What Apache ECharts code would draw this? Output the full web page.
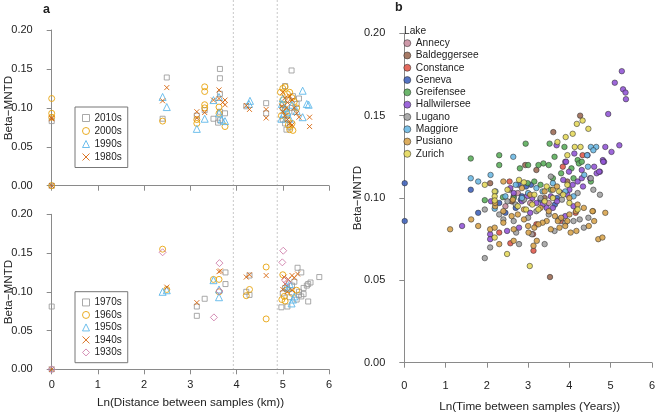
<!DOCTYPE html>
<html><head><meta charset="utf-8">
<script src="https://cdn.jsdelivr.net/npm/echarts@6/dist/echarts.min.js"></script>
<style>html,body{margin:0;padding:0;background:#fff}#c{width:658px;height:413px}</style>
</head><body><div id="c"></div>
<script>
// ---------- Panel a (top): decades 2010s-1980s, [ln distance, Beta-MNTD]
var d2010s = [[0,0.083],[0,0.0],[2.40,0.086],[2.49,0.139],[3.14,0.090],[3.31,0.097],[3.50,0.086],[3.64,0.150],[3.64,0.138],[3.64,0.118],[3.64,0.095],[3.64,0.084],[3.60,0.081],[3.75,0.093],[4.21,0.102],[4.64,0.106],[4.64,0.093],[5.19,0.148],[5.05,0.128],[5.0,0.085],[5.12,0.110],[5.2,0.100],[5.25,0.095],[5.1,0.090],[5.15,0.075],[5.08,0.072],[5.3,0.105],[5.35,0.112],[5.0,0.100],[5.22,0.115],[5.05,0.080]];
var d2000s = [[0,0.112],[0,0.093],[0,0.088],[0,0.0],[2.40,0.083],[3.14,0.080],[3.14,0.085],[3.31,0.127],[3.31,0.121],[3.31,0.104],[3.31,0.100],[3.62,0.101],[3.62,0.093],[3.75,0.076],[4.95,0.120],[5.0,0.125],[5.05,0.127],[5.1,0.118],[5.15,0.120],[5.2,0.113],[5.25,0.108],[5.0,0.105],[5.05,0.098],[4.97,0.090],[5.1,0.085],[5.2,0.080],[5.15,0.072],[5.22,0.071],[5.08,0.095],[5.3,0.100],[5.0,0.110],[5.12,0.078]];
var d1990s = [[2.40,0.114],[2.49,0.101],[3.14,0.073],[3.31,0.086],[3.50,0.110],[3.62,0.114],[3.62,0.093],[3.68,0.085],[3.75,0.083],[4.29,0.109],[4.27,0.105],[5.43,0.122],[5.56,0.104],[5.52,0.105],[5.43,0.088],[4.98,0.105],[5.0,0.112],[5.05,0.100],[4.97,0.086],[5.1,0.095],[5.2,0.104],[5.3,0.096],[5.02,0.092],[5.15,0.086]];
var d1980s = [[0,0.087],[0,0.086],[0,0.0],[2.40,0.109],[2.49,0.126],[3.14,0.095],[3.14,0.087],[3.31,0.094],[3.50,0.110],[3.62,0.123],[3.62,0.112],[3.70,0.107],[3.75,0.110],[3.75,0.104],[4.21,0.103],[4.28,0.098],[4.64,0.098],[4.64,0.087],[5.58,0.088],[5.58,0.076],[5.0,0.120],[5.05,0.113],[5.1,0.107],[5.15,0.115],[5.2,0.110],[5.25,0.100],[5.0,0.095],[5.05,0.090],[5.1,0.085],[5.15,0.080],[5.2,0.078],[5.3,0.093],[5.35,0.088],[5.08,0.100],[4.98,0.102]];
// ---------- Panel a (bottom): decades 1970s-1930s
var d1970s = [[0,0.081],[0,0.0],[3.14,0.081],[3.14,0.069],[3.31,0.091],[3.76,0.125],[3.76,0.110],[4.21,0.100],[4.28,0.096],[4.28,0.121],[4.97,0.080],[5.1,0.081],[5.32,0.131],[5.4,0.125],[5.79,0.119],[5.52,0.108],[5.55,0.0875],[5.45,0.097],[5.6,0.112],[5.55,0.110],[5.2,0.108],[5.25,0.113],[5.35,0.100],[5.4,0.094],[5.3,0.090],[5.15,0.093],[5.0,0.098],[5.05,0.105],[5.45,0.105],[5.35,0.096]];
var d1960s = [[2.40,0.155],[2.49,0.103],[3.50,0.116],[3.62,0.116],[3.62,0.100],[4.21,0.095],[4.28,0.103],[4.64,0.132],[4.64,0.065],[5.0,0.122],[4.98,0.090],[5.03,0.094],[5.1,0.103],[5.2,0.098],[5.3,0.102],[5.05,0.088]];
var d1950s = [[2.40,0.100],[2.49,0.102],[3.50,0.115],[3.62,0.103],[3.62,0.093],[5.19,0.085],[5.12,0.105],[5.25,0.094],[5.15,0.110],[5.22,0.090],[5.08,0.107]];
var d1940s = [[0,0.0],[2.49,0.106],[3.14,0.086],[3.62,0.126],[3.65,0.127],[4.21,0.119],[4.28,0.122],[4.64,0.121],[5.03,0.119],[5.12,0.116],[5.2,0.121],[5.32,0.123],[5.1,0.100],[5.2,0.102],[5.05,0.110],[5.25,0.118],[5.0,0.103]];
var d1930s = [[0,0.0],[2.40,0.151],[3.51,0.067],[3.63,0.137],[3.63,0.101],[5.01,0.153],[4.99,0.138],[5.05,0.115],[5.1,0.112]];
var cutLines = [3.93, 4.88];

// ---------- Panel b: lakes, [ln time, Beta-MNTD]
var lakeNames = ["Annecy","Baldeggersee","Constance","Geneva","Greifensee","Hallwilersee","Lugano","Maggiore","Pusiano","Zurich"];
var annecy = [[2.55,0.105],[2.62,0.098],[2.75,0.103],[3.05,0.097],[2.45,0.095],[3.5,0.097]];
var baldeggersee = [[4.26,0.150],[3.61,0.140],[2.08,0.109],[2.93,0.120],[3.53,0.052],[2.6,0.098],[2.65,0.101],[3.2,0.117],[3.95,0.110],[3.4,0.100]];
var constance = [[2.30,0.079],[2.57,0.0725],[3.13,0.068],[3.12,0.078],[4.32,0.126],[3.84,0.119],[3.2,0.084],[4.15,0.091],[3.8,0.086],[2.55,0.110]];
var geneva = [[0.01,0.109],[0.01,0.086],[1.61,0.105],[1.79,0.091],[2.77,0.108],[3.07,0.108],[2.82,0.099],[2.7,0.094],[2.85,0.101],[3.3,0.099],[2.95,0.107],[2.3,0.097],[2.45,0.091],[3.65,0.096],[3.7,0.100]];
var greifensee = [[1.61,0.124],[2.30,0.126],[2.30,0.120],[2.94,0.133],[3.52,0.133],[3.88,0.131],[3.64,0.125],[3.37,0.121],[3.50,0.120],[4.20,0.123],[4.23,0.121],[4.52,0.110],[1.95,0.0987],[2.39,0.1005],[2.99,0.109],[3.0,0.120],[3.25,0.120],[2.8,0.118],[3.6,0.112],[3.8,0.115],[4.05,0.118],[4.1,0.112],[3.3,0.108],[3.55,0.105],[2.65,0.100],[3.15,0.110],[4.3,0.122]];
var hallwilersee = [[5.27,0.177],[5.10,0.170],[5.30,0.166],[5.36,0.164],[5.37,0.160],[4.94,0.151],[5.21,0.132],[5.02,0.128],[4.81,0.123],[4.84,0.122],[4.87,0.131],[3.69,0.132],[3.90,0.122],[4.74,0.116],[4.66,0.115],[4.44,0.126],[4.72,0.116],[4.82,0.122],[4.08,0.108],[4.2,0.110],[4.3,0.112],[4.33,0.107],[3.92,0.122],[4.0,0.105],[3.95,0.102],[3.8,0.103],[3.7,0.098],[3.55,0.101],[3.45,0.094],[3.35,0.096],[3.2,0.097],[3.1,0.100],[2.97,0.101],[2.85,0.098],[2.65,0.103],[2.57,0.106],[2.1,0.098],[2.08,0.078],[2.08,0.075],[1.40,0.083],[2.49,0.080],[2.78,0.082],[3.05,0.091],[3.6,0.094],[3.9,0.089],[4.1,0.095],[4.3,0.117],[4.5,0.112],[4.6,0.119],[3.99,0.116],[3.85,0.111],[4.12,0.127]];
var lugano = [[1.95,0.093],[1.95,0.0635],[2.08,0.070],[2.40,0.087],[2.71,0.079],[2.78,0.072],[3.09,0.078],[3.40,0.072],[3.64,0.080],[4.35,0.082],[4.25,0.087],[4.46,0.088],[4.74,0.102],[4.58,0.105],[4.52,0.112],[2.5,0.098],[2.7,0.096],[2.9,0.099],[3.2,0.092],[3.5,0.090],[3.75,0.087],[3.9,0.085],[4.1,0.086],[3.55,0.113],[3.3,0.100],[3.82,0.099],[2.3,0.090],[2.65,0.086],[3.0,0.088],[4.2,0.103]];
var maggiore = [[4.52,0.131],[4.65,0.131],[4.58,0.129],[4.43,0.126],[4.36,0.114],[2.64,0.125],[2.09,0.114],[1.79,0.110],[1.61,0.112],[2.21,0.104],[2.19,0.0935],[2.7,0.108],[3.0,0.103],[3.2,0.106],[3.35,0.104],[3.6,0.109],[3.9,0.104],[4.1,0.101],[2.45,0.101],[2.85,0.100],[4.45,0.119]];
var pusiano = [[1.11,0.081],[1.62,0.087],[1.79,0.083],[2.08,0.081],[2.19,0.082],[2.30,0.072],[2.40,0.085],[2.65,0.074],[2.65,0.081],[3.01,0.079],[3.13,0.071],[3.21,0.074],[3.55,0.081],[3.76,0.082],[3.90,0.083],[4.03,0.079],[4.17,0.080],[4.47,0.083],[4.60,0.086],[4.57,0.092],[4.87,0.091],[4.70,0.075],[4.80,0.076],[3.72,0.086],[3.45,0.086],[3.35,0.085],[3.25,0.084],[3.15,0.082],[2.9,0.087],[2.75,0.090],[2.6,0.089],[2.4,0.092],[2.2,0.095],[2.9,0.093],[3.3,0.094],[3.5,0.092],[3.65,0.089],[3.8,0.088],[4.0,0.090],[4.16,0.092],[4.2,0.096],[4.35,0.094],[4.56,0.092],[3.4,0.104],[3.6,0.105],[3.7,0.107],[3.05,0.102],[2.85,0.106],[2.63,0.099],[2.4,0.110],[2.2,0.097],[4.0,0.100],[3.95,0.086],[3.0,0.083]];
var zurich = [[4.18,0.145],[4.32,0.147],[4.46,0.142],[4.08,0.139],[3.91,0.137],[3.71,0.134],[4.13,0.131],[4.27,0.131],[3.95,0.126],[2.78,0.111],[1.95,0.108],[2.19,0.104],[2.19,0.101],[2.19,0.0985],[2.19,0.076],[2.49,0.066],[3.04,0.0587],[2.5,0.105],[2.9,0.1095],[3.15,0.102],[3.4,0.098],[3.6,0.100],[3.75,0.104],[3.85,0.102],[4.0,0.097],[4.2,0.093],[3.25,0.093],[3.1,0.096],[2.75,0.095],[2.95,0.093],[3.45,0.107],[3.95,0.108]];
var lakeData = [annecy,baldeggersee,constance,geneva,greifensee,hallwilersee,lugano,maggiore,pusiano,zurich];

var xTicks = [0,1,2,3,4,5,6];
var yTicks = [0,0.05,0.10,0.15,0.20];

// ---------- styling
var FONT = "Liberation Sans, Arial, Helvetica, sans-serif";
var decColors = {grey:'#9a9a9a', orange:'#E69F00', blue:'#56B4E9', red:'#D55E00', pink:'#CC79A7'};
var lakeColors = ['#c98ea0','#9c6b55','#e05a4c','#4164bd','#5cae5c','#9256d6','#a3a3a3','#6cb8e3','#d8a44e','#e4d85c'];
var X_PATH = 'path://M0,0L10,10M10,0L0,10';
var axisCol = '#8a8a8a';

function xAx(gi, off, showLabels){
  return {type:'value', gridIndex:gi, min:0, max:6, interval:1, offset:off,
    axisLine:{show:true, lineStyle:{color:axisCol, width:1}},
    axisTick:{show:true, length:5, lineStyle:{color:axisCol}},
    axisLabel:{show:showLabels, fontSize:11, color:'#222', fontFamily:FONT, margin:4},
    splitLine:{show:false}};
}
function yAx(gi, off){
  return {type:'value', gridIndex:gi, min:0, max:0.2, interval:0.05, offset:off,
    axisLine:{show:true, lineStyle:{color:axisCol, width:1}},
    axisTick:{show:true, length:5, lineStyle:{color:axisCol}},
    axisLabel:{fontSize:11, color:'#222', fontFamily:FONT, margin:8, formatter:function(v){return v.toFixed(2);}},
    splitLine:{show:false}};
}
function hollow(name, data, gi, symbol, size, col){
  return {type:'scatter', name:name, xAxisIndex:gi, yAxisIndex:gi, data:data, symbol:symbol, symbolSize:size,
    clip:false, itemStyle:{color:'rgba(0,0,0,0)', borderColor:col, borderWidth:1, opacity:0.85}, emphasis:{disabled:true}};
}

var series = [
  hollow('2010s', d2010s, 0, 'rect', 5, decColors.grey),
  hollow('2000s', d2000s, 0, 'circle', 6, decColors.orange),
  hollow('1990s', d1990s, 0, 'triangle', 7, decColors.blue),
  hollow('1980s', d1980s, 0, X_PATH, 5, decColors.red),
  hollow('1970s', d1970s, 1, 'rect', 5, decColors.grey),
  hollow('1960s', d1960s, 1, 'circle', 6, decColors.orange),
  hollow('1950s', d1950s, 1, 'triangle', 7, decColors.blue),
  hollow('1940s', d1940s, 1, X_PATH, 5, decColors.red),
  hollow('1930s', d1930s, 1, 'diamond', 7, decColors.pink)
];
lakeNames.forEach(function(n,i){
  series.push({type:'scatter', name:n, xAxisIndex:2, yAxisIndex:2, data:lakeData[i], symbol:'circle', symbolSize:5.5,
    clip:false, itemStyle:{color:lakeColors[i], borderColor:'#2a2a2a', borderWidth:0.6, opacity:0.9}, emphasis:{disabled:true}});
});

function legItem(name, icon, col){
  return {name:name, icon:icon, itemStyle:{color:'rgba(0,0,0,0)', borderColor:col, borderWidth:1}};
}

var option = {
  animation:false,
  backgroundColor:'#fff',
  grid:[
    {left:51.7, top:30, width:277.3, height:155.7},
    {left:51.7, top:214.3, width:277.3, height:155},
    {left:404.3, top:33.3, width:250.7, height:329.4}
  ],
  xAxis:[xAx(0,5.5,false), xAx(1,5.7,true), xAx(2,13.3,true)],
  yAxis:[yAx(0,11), yAx(1,11), yAx(2,11)],
  legend:[
    {left:75, top:107, orient:'vertical', padding:[4.5,6,4,7], itemGap:0, itemWidth:7, itemHeight:7,
     borderColor:'#777', borderWidth:1, selectedMode:false,
     textStyle:{fontSize:10, color:'#222', fontFamily:FONT, lineHeight:13},
     data:[legItem('2010s','rect',decColors.grey), legItem('2000s','circle',decColors.orange), legItem('1990s','triangle',decColors.blue), legItem('1980s',X_PATH,decColors.red)]},
    {left:75, top:291.7, orient:'vertical', padding:[4.5,6,4,7], itemGap:0, itemWidth:7, itemHeight:7,
     borderColor:'#777', borderWidth:1, selectedMode:false,
     textStyle:{fontSize:10, color:'#222', fontFamily:FONT, lineHeight:12.5},
     data:[legItem('1970s','rect',decColors.grey), legItem('1960s','circle',decColors.orange), legItem('1950s','triangle',decColors.blue), legItem('1940s',X_PATH,decColors.red), legItem('1930s','diamond',decColors.pink)]},
    {left:403.5, top:37, orient:'vertical', padding:0, itemGap:0, itemWidth:7, itemHeight:7, selectedMode:false,
     textStyle:{fontSize:10.2, color:'#222', fontFamily:FONT, lineHeight:12.3},
     data:lakeNames.map(function(n,i){return {name:n, icon:'circle', itemStyle:{color:lakeColors[i], borderColor:'#2a2a2a', borderWidth:0.6}};})}
  ],
  series:series
};

var chart = echarts.init(document.getElementById('c'), null, {renderer:'canvas'});
chart.setOption(option);

var graphics = [];
cutLines.forEach(function(v){
  var px = chart.convertToPixel({gridIndex:0}, [v, 0])[0];
  graphics.push({type:'line', silent:true, z:0, shape:{x1:px, y1:0, x2:px, y2:375},
    style:{stroke:'#c8c8c8', lineWidth:1, lineDash:[2,2]}});
});
function txt(x, y, s, size, opts){
  var o = {type:'text', x:x, y:y, silent:true, style:{text:s, fontSize:size, fontFamily:FONT, fill:'#222',
    textAlign:(opts&&opts.align)||'center', textVerticalAlign:'middle', fontWeight:(opts&&opts.bold)?'bold':'normal'}};
  if (opts && opts.rot) o.rotation = Math.PI/2;
  return o;
}
graphics.push(txt(43, 10, 'a', 12.5, {bold:true, align:'left'}));
graphics.push(txt(395, 8, 'b', 12.5, {bold:true, align:'left'}));
graphics.push(txt(9, 108, 'Beta\u2212MNTD', 11.7, {rot:true}));
graphics.push(txt(9, 292, 'Beta\u2212MNTD', 11.7, {rot:true}));
graphics.push(txt(358, 198, 'Beta\u2212MNTD', 11.7, {rot:true}));
graphics.push(txt(190.5, 403, 'Ln(Distance between samples (km))', 11.7));
graphics.push(txt(529.7, 406.5, 'Ln(Time between samples (Years))', 11.7));
graphics.push(txt(404, 31, 'Lake', 10.2, {align:'left'}));
chart.setOption({graphic:graphics});
</script></body></html>
